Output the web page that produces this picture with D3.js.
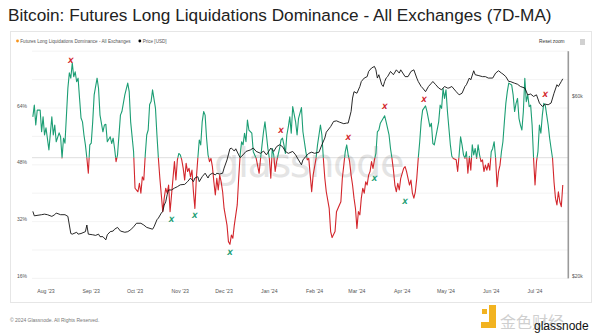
<!DOCTYPE html>
<html>
<head>
<meta charset="utf-8">
<script src="https://cdn.jsdelivr.net/npm/d3@7.9.0/dist/d3.min.js"></script>
<style>
  html, body { margin: 0; padding: 0; background: #fff; }
  svg { display: block; font-family: "Liberation Sans", Arial, sans-serif; }
</style>
</head>
<body>
<svg id="chart" width="600" height="336"></svg>
<script>
// Series start (day 0) - the data below is [day offset, value]
const startDate = new Date(Date.UTC(2023, 6, 23));

// Futures long liquidations dominance, 7D-MA, in %
const dominance = [
  [0,61.5],[1,64.8],[2,59.2],[3,63.4],[5,63.4],[6,57.3],[7,61.5],[8,56.4],[9,58.4],[11,52.2],
  [13,61.5],[14,56.4],[15,59.2],[16,54.5],[18,57.0],[19,55.9],[20,49.9],[21,55.5],[22,54.1],[24,69.6],
  [25,73.9],[26,72.4],[27,76.7],[28,72.8],[29,74.2],[30,71.4],[31,72.4],[32,66.7],[33,61.2],[34,60.1],
  [35,56.4],[36,53.6],[37,49.9],[38,45.6],[39,53.6],[40,54.1],[41,60.1],[42,67.7],[44,72.4],[45,69.5],
  [46,62.0],[48,57.3],[49,59.2],[50,59.4],[51,54.5],[53,55.9],[54,54.0],[55,55.5],[56,52.6],[57,48.9],
  [58,50.8],[60,62.0],[61,63.0],[63,67.7],[65,71.0],[66,68.6],[67,60.1],[69,51.7],[70,41.4],[72,40.4],
  [73,42.8],[74,40.0],[75,44.6],[76,43.7],[77,50.8],[78,56.4],[79,57.8],[80,65.0],[81,65.8],[82,69.1],
  [84,63.9],[85,56.4],[86,49.8],[87,44.2],[88,39.5],[89,34.8],[90,38.6],[91,41.4],[92,40.0],[93,42.3],
  [94,34.8],[96,44.2],[97,48.9],[98,43.7],[99,49.4],[100,51.2],[101,50.8],[102,49.4],[103,47.0],[104,43.7],
  [105,48.4],[106,46.1],[107,47.0],[108,44.6],[109,46.5],[110,40.4],[111,35.7],[112,44.2],[113,49.8],[114,55.0],
  [115,53.6],[116,60.1],[117,63.0],[118,62.0],[119,55.5],[120,50.8],[121,48.9],[122,49.8],[123,47.5],[124,43.2],
  [125,39.5],[126,44.2],[127,40.9],[128,45.1],[129,43.2],[130,40.4],[131,35.7],[133,31.0],[134,26.3],[135,25.6],
  [136,28.2],[137,27.3],[138,31.0],[140,36.7],[141,44.2],[142,50.8],[143,54.5],[144,53.6],[145,56.9],[146,54.5],
  [147,60.6],[148,57.8],[150,56.9],[151,51.7],[153,49.8],[155,45.6],[156,49.8],[157,53.6],[158,57.3],[159,60.1],
  [160,56.4],[161,52.6],[162,49.8],[163,44.2],[164,52.6],[165,50.8],[166,46.1],[167,48.9],[168,50.8],[169,52.6],
  [170,55.0],[171,55.5],[172,53.6],[173,51.2],[174,56.4],[175,58.7],[176,61.5],[177,56.9],[178,64.4],[180,60.1],
  [181,56.4],[182,61.1],[184,64.1],[185,57.3],[187,51.7],[188,49.4],[189,49.8],[190,45.1],[191,40.4],[192,45.1],
  [194,49.8],[195,53.6],[196,56.4],[197,59.2],[198,56.4],[199,49.8],[200,44.2],[201,40.4],[203,35.7],[204,29.2],
  [205,27.5],[207,29.2],[208,34.8],[210,36.7],[211,37.6],[212,44.2],[213,47.9],[214,51.7],[215,53.6],[216,50.8],
  [217,48.9],[218,45.1],[219,42.3],[220,38.6],[221,35.7],[222,30.1],[223,34.8],[224,33.9],[225,38.6],[226,41.4],
  [227,40.0],[228,43.2],[229,42.3],[230,45.1],[231,46.1],[232,48.9],[233,47.0],[234,49.4],[235,51.2],[236,57.3],
  [237,57.8],[238,59.7],[240,61.1],[241,61.8],[242,60.1],[244,56.4],[245,52.6],[246,49.8],[247,46.5],[248,42.3],
  [249,40.4],[250,42.8],[251,40.9],[252,44.2],[254,47.0],[255,47.5],[256,46.1],[257,44.2],[258,42.3],[259,43.7],
  [260,40.0],[261,38.6],[262,40.4],[263,44.2],[264,49.8],[265,54.5],[266,60.1],[267,63.4],[269,64.6],[270,63.0],
  [272,58.7],[273,59.7],[274,54.0],[275,53.6],[276,55.8],[278,60.1],[279,64.8],[280,63.9],[281,69.5],[282,66.7],
  [283,69.1],[284,63.0],[286,53.6],[287,50.4],[288,49.8],[290,49.4],[291,46.1],[292,50.8],[293,55.9],[294,53.6],
  [295,50.8],[296,49.8],[297,51.7],[298,45.6],[299,50.4],[300,46.5],[301,53.6],[302,50.8],[303,52.6],[304,49.8],
  [305,53.6],[306,50.8],[307,48.9],[308,49.4],[309,46.1],[310,47.9],[311,46.5],[312,48.4],[313,46.5],[314,51.7],
  [315,52.6],[316,54.5],[317,49.8],[318,41.8],[319,46.1],[320,47.9],[321,51.7],[322,54.5],[323,60.1],[324,65.3],
  [325,68.6],[326,71.0],[328,70.5],[329,67.7],[330,63.0],[331,65.3],[332,66.7],[333,61.1],[334,59.2],[335,57.8],
  [336,63.0],[337,72.4],[338,65.8],[339,67.7],[340,64.4],[341,64.8],[342,59.2],[343,49.8],[344,42.3],[345,48.9],
  [346,51.7],[347,59.2],[348,56.9],[349,62.0],[350,65.3],[351,64.8],[352,62.0],[353,59.2],[354,55.5],[355,52.6],
  [356,49.8],[357,43.2],[358,38.6],[359,36.7],[360,40.4],[361,37.6],[362,36.2],[363,42.3]
];

// BTC price in USD
const price = [
  [0,30100],[1,29300],[6,29500],[8,29600],[10,29500],[13,29200],[15,29500],[16,29800],[19,29500],[22,29500],
  [24,29200],[25,27700],[26,26300],[27,26200],[30,26500],[31,26200],[33,26300],[36,26600],[37,27700],[38,26200],
  [41,26100],[43,26000],[45,26200],[46,25800],[48,25800],[50,25300],[51,26100],[53,26600],[55,26700],[56,27000],
  [58,27300],[60,26700],[63,26500],[65,26600],[67,26900],[69,27400],[71,28000],[74,28000],[76,27700],[78,27300],
  [82,27000],[83,27400],[85,28600],[86,28900],[88,29800],[89,30100],[90,31300],[91,31900],[92,33300],[93,34300],
  [95,34300],[97,34700],[99,35000],[101,35400],[104,35500],[106,36100],[108,36900],[110,36100],[111,36900],[113,37200],
  [114,36100],[116,37200],[118,38000],[120,36900],[121,37600],[123,38000],[125,37600],[126,38000],[128,37800],[130,38000],
  [131,39200],[133,41200],[135,44100],[136,44300],[138,43500],[139,44100],[141,42500],[142,41800],[144,42500],[146,43400],
  [149,43800],[151,44300],[153,43400],[156,42900],[158,43500],[160,42500],[163,44300],[165,43400],[167,44700],[169,45200],
  [171,44700],[173,43400],[175,42900],[178,43400],[180,42500],[182,41200],[184,40000],[185,41200],[187,42100],[189,42900],
  [191,43200],[193,42900],[196,43200],[198,45200],[200,47100],[201,48800],[204,50500],[206,52100],[208,52300],[210,51900],
  [213,51400],[215,51600],[216,51600],[218,55400],[219,60100],[220,62500],[222,61900],[224,64500],[225,66500],[227,67900],
  [229,68500],[230,70700],[232,72200],[234,72900],[235,71400],[236,67900],[237,69300],[239,65200],[240,64500],[241,66500],
  [242,67900],[243,68500],[245,70700],[247,69300],[249,71400],[251,70000],[252,71400],[255,68500],[257,68500],[259,70700],
  [261,71400],[263,67900],[264,66500],[266,64500],[267,63900],[269,62500],[271,64500],[273,65800],[274,66500],[276,65200],
  [278,63900],[280,63200],[282,64500],[284,63900],[285,63900],[287,64500],[290,62500],[292,61300],[294,61900],[296,64500],
  [297,65200],[299,67900],[300,67200],[302,71000],[303,69300],[305,69000],[308,68500],[310,68500],[312,67900],[315,67900],
  [317,70000],[319,71000],[321,70000],[322,69600],[324,68500],[326,66500],[327,66500],[330,65800],[332,65400],[334,64500],
  [337,63900],[339,61300],[341,61600],[343,60700],[345,61300],[347,58300],[349,57100],[351,57900],[353,57700],[355,58300],
  [357,61900],[359,65200],[360,64500],[362,66500],[363,67600]
];

// Annotation markers [day offset, dominance %]
const topMarks = [[26,77.4],[170,57.8],[216,55.8],[241,64.3],[268,66.3],[351,67.7]];
const bottomMarks = [[95,32.7],[111,33.6],[135,23.2],[234,44.2],[255,37.6]];

const threshold = 50;
const leftTicks = [16, 32, 48, 64];
const gridTicks = [16, 24, 32, 40, 48, 56, 64, 72, 80];
const rightTicks = [20000, 60000];

const title = "Bitcoin: Futures Long Liquidations Dominance - All Exchanges (7D-MA)";
const legendItems = [
  { label: "Futures Long Liquidations Dominance - All Exchanges", color: "#f7931a" },
  { label: "Price [USD]", color: "#000" }
];

const green = "#1c9e74";
const red = "#d3262c";

const toDate = d => d3.utcDay.offset(startDate, d);
const domRows = dominance.map(([d, v]) => ({ date: toDate(d), value: v }));
const priceRows = price.map(([d, v]) => ({ date: toDate(d), value: v }));

const svg = d3.select("#chart");

// scales
const x = d3.scaleUtc()
  .domain([new Date(Date.UTC(2023, 6, 22, 10)), new Date(Date.UTC(2024, 6, 23, 14))])
  .range([32, 568]);
const y = d3.scaleLinear().domain([16, 80]).range([278.4, 51.2]);
const yPrice = d3.scaleLog().domain([20000, 80000]).range([278.4, 51.2]);

// outer panel
svg.append("rect")
  .attr("x", 10.5).attr("y", 31.5).attr("width", 581).attr("height", 271)
  .attr("fill", "none").attr("stroke", "#e6e6e6");

// title
svg.append("text")
  .attr("x", 8).attr("y", 21)
  .attr("font-size", 17.2).attr("fill", "#222")
  .text(title);

// legend
const legend = svg.append("g").attr("font-size", 4.6).attr("fill", "#555");
let lx = 17.5;
legendItems.forEach(item => {
  legend.append("circle").attr("cx", lx).attr("cy", 41).attr("r", 1.4).attr("fill", item.color);
  const t = legend.append("text").attr("x", lx + 2.8).attr("y", 42.6).text(item.label);
  lx += t.node().getComputedTextLength() + 12;
});

// reset zoom + menu
svg.append("text").attr("x", 539).attr("y", 43).attr("font-size", 4.8).attr("fill", "#333").text("Reset zoom");
[40, 42, 44].forEach(yy => {
  svg.append("line").attr("x1", 580).attr("x2", 585).attr("y1", yy).attr("y2", yy)
    .attr("stroke", "#666").attr("stroke-width", 0.6);
});

// gridlines
svg.append("g").selectAll("line").data(gridTicks).join("line")
  .attr("x1", 32).attr("x2", 568)
  .attr("y1", d => y(d)).attr("y2", d => y(d))
  .attr("stroke", "#f0f0f0").attr("stroke-width", 0.8);

svg.append("line")
  .attr("x1", 32).attr("x2", 568)
  .attr("y1", y(threshold)).attr("y2", y(threshold))
  .attr("stroke", "#d4d4d4").attr("stroke-width", 0.8);

// watermark
svg.append("text")
  .attr("x", 214).attr("y", 177)
  .attr("font-size", 40).attr("font-family", "'DejaVu Sans', sans-serif")
  .attr("fill", "#000").attr("opacity", 0.1)
  .attr("letter-spacing", -1.5)
  .text("glassnode");

// dominance line, split by threshold
const defs = svg.append("defs");
defs.append("clipPath").attr("id", "above")
  .append("rect").attr("x", 0).attr("y", 0).attr("width", 600).attr("height", y(threshold));
defs.append("clipPath").attr("id", "below")
  .append("rect").attr("x", 0).attr("y", y(threshold)).attr("width", 600).attr("height", 336 - y(threshold));

const domLine = d3.line().x(d => x(d.date)).y(d => y(d.value));
[["above", green], ["below", red]].forEach(([id, color]) => {
  svg.append("path")
    .datum(domRows)
    .attr("clip-path", `url(#${id})`)
    .attr("fill", "none")
    .attr("stroke", color)
    .attr("stroke-width", 1.1)
    .attr("stroke-linejoin", "round")
    .attr("d", domLine);
});

// price line
const priceLine = d3.line().x(d => x(d.date)).y(d => yPrice(d.value));
svg.append("path")
  .datum(priceRows)
  .attr("fill", "none")
  .attr("stroke", "#111")
  .attr("stroke-width", 0.9)
  .attr("stroke-linejoin", "round")
  .attr("d", priceLine);

// markers
const drawMarks = (marks, color) => {
  svg.append("g").selectAll("text").data(marks).join("text")
    .attr("x", d => x(toDate(d[0])))
    .attr("y", d => y(d[1]))
    .attr("text-anchor", "middle")
    .attr("dominant-baseline", "central")
    .attr("font-size", 7.2)
    .attr("font-weight", "bold")
    .attr("font-style", "italic")
    .attr("font-family", "'DejaVu Sans', sans-serif")
    .attr("fill", color)
    .text("X");
};
drawMarks(topMarks, red);
drawMarks(bottomMarks, green);

// right axis line
svg.append("line")
  .attr("x1", 568.3).attr("x2", 568.3).attr("y1", 51.2).attr("y2", 278.4)
  .attr("stroke", "#9a9a9a").attr("stroke-width", 1.6);

// left axis labels
svg.append("g").selectAll("text").data(leftTicks).join("text")
  .attr("x", 17).attr("y", d => y(d) - 2.5)
  .attr("dominant-baseline", "central")
  .attr("font-size", 5).attr("fill", "#555")
  .text(d => d + "%");

// right axis labels
svg.append("g").selectAll("text").data(rightTicks).join("text")
  .attr("x", 572).attr("y", d => yPrice(d) - 2.5)
  .attr("dominant-baseline", "central")
  .attr("font-size", 5).attr("fill", "#555")
  .text(d => "$" + d / 1000 + "k");

// x axis labels
const months = d3.utcMonth.range(new Date(Date.UTC(2023, 7, 1)), new Date(Date.UTC(2024, 7, 1)));
const fmt = d3.utcFormat("%b '%y");
svg.append("g").selectAll("text").data(months).join("text")
  .attr("x", d => x(d)).attr("y", 293)
  .attr("text-anchor", "middle")
  .attr("font-size", 5.2).attr("fill", "#555")
  .text(d => fmt(d));

// footer
svg.append("text").attr("x", 10).attr("y", 322)
  .attr("font-size", 5).attr("fill", "#777")
  .text("\u00a9 2024 Glassnode. All Rights Reserved.");

// bottom-right logo
const logo = svg.append("g");
logo.append("rect").attr("x", 482).attr("y", 309).attr("width", 5).attr("height", 5).attr("fill", "#f2b320");
logo.append("path").attr("d", "M489,305h7v23h-15v-6h8z").attr("fill", "#f2b320");
logo.append("text").attr("x", 500).attr("y", 328)
  .attr("font-size", 16).attr("font-family", "'Noto Sans CJK SC', sans-serif")
  .attr("fill", "#cfcfcf")
  .text("金色财经");
logo.append("text").attr("x", 534).attr("y", 330)
  .attr("font-size", 12).attr("fill", "#111")
  .text("glassnode");
</script>
</body>
</html>
